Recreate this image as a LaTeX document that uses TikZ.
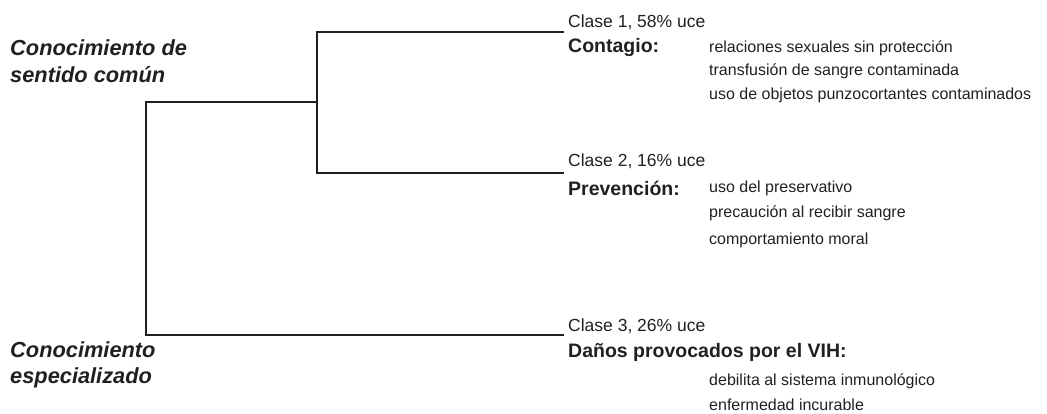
\documentclass[tikz,border=0pt]{standalone}
\usepackage{fontspec}
\setmainfont{Liberation Sans}
\definecolor{ink}{HTML}{231F20}
\begin{document}
\begin{tikzpicture}[x=1pt,y=-1pt,
  branch/.style={draw=ink,line width=1.8pt,line cap=rect},
  side/.style={inner sep=0pt,anchor=west,align=left,text=ink,font=\fontsize{21.8}{26.5}\selectfont\bfseries\itshape},
  clase/.style={inner sep=0pt,anchor=west,text=ink,font=\fontsize{17.5}{20}\selectfont},
  head/.style={inner sep=0pt,anchor=west,text=ink,font=\fontsize{19.5}{20}\selectfont\bfseries},
  item/.style={inner sep=0pt,anchor=west,text=ink,font=\fontsize{16}{17}\selectfont}]
\useasboundingbox (0,0) rectangle (1047,414);
% tree
\coordinate (lt) at (146,102);
\coordinate (lb) at (146,335);
\coordinate (m) at (317,102);
\coordinate (mt) at (317,32);
\coordinate (mb) at (317,173);
\coordinate (c1) at (563,32);
\coordinate (c2) at (563,173);
\coordinate (c3) at (563,335);
\draw[branch] (c1) -- (mt) -- (mb) -- (c2);
\draw[branch] (m) -- (lt) -- (lb) -- (c3);
% left labels
\node[side] (s1) at (10,61) {Conocimiento de\\sentido común};
\node[side] (s2) at (10,365) {Conocimiento\\especializado};
% class 1
\node[clase] (k1) at (568,22) {Clase 1, 58\% uce};
\node[head] (h1) at (568,48) {Contagio:};
\node[item] (i11) at (709,48) {relaciones sexuales sin protección};
\node[item] (i12) at (709,71.5) {transfusión de sangre contaminada};
\node[item] (i13) at (709,95) {uso de objetos punzocortantes contaminados};
% class 2
\node[clase] (k2) at (568,161) {Clase 2, 16\% uce};
\node[head] (h2) at (568,188) {Prevención:};
\node[item] (i21) at (709,188) {uso del preservativo};
\node[item] (i22) at (709,213) {precaución al recibir sangre};
\node[item] (i23) at (709,240) {comportamiento moral};
% class 3
\node[clase] (k3) at (568,326) {Clase 3, 26\% uce};
\node[head] (h3) at (568,352) {Daños provocados por el VIH:};
\node[item] (i31) at (709,381) {debilita al sistema inmunológico};
\node[item] (i32) at (709,405) {enfermedad incurable};
\end{tikzpicture}
\end{document}
